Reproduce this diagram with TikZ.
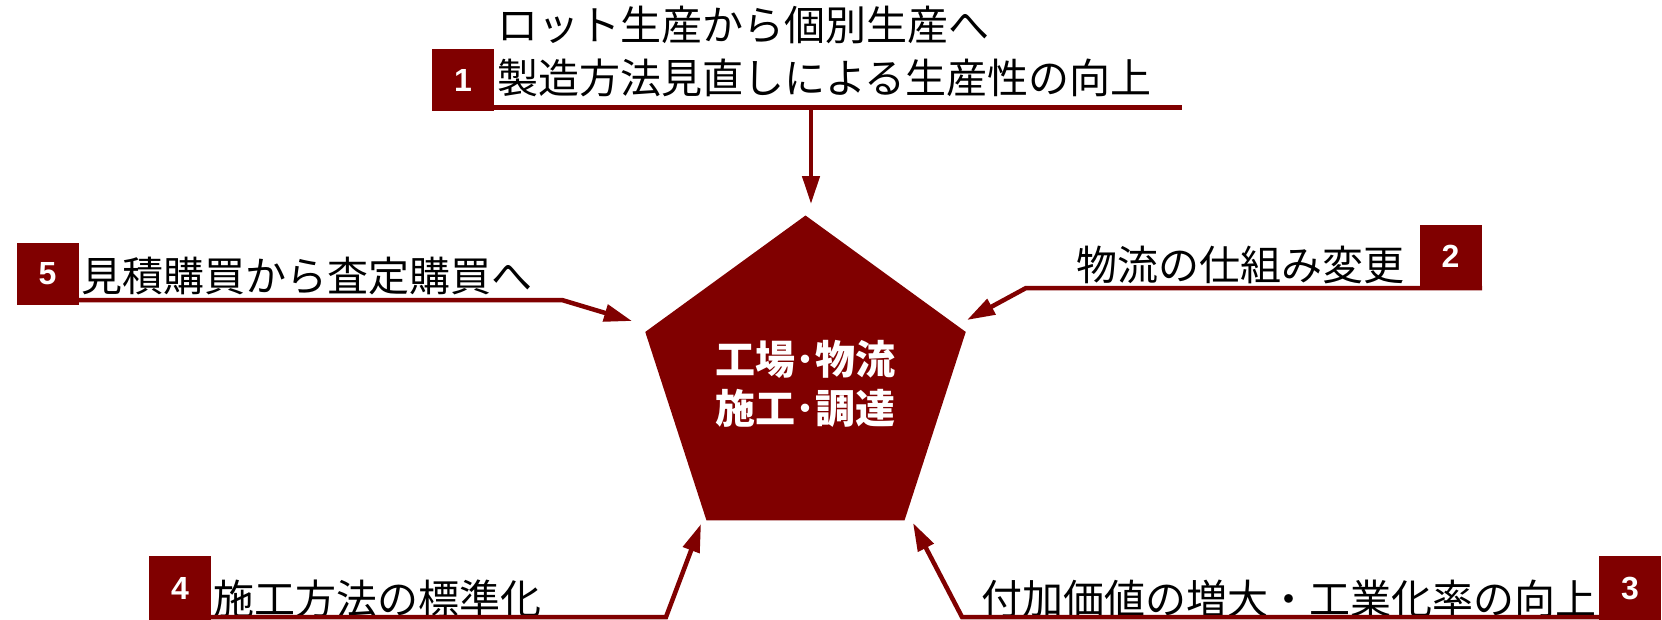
\documentclass[tikz,border=0pt]{standalone}
\usepackage{fontspec}
\setmainfont{Liberation Sans}
\newfontfamily\jp{Noto Sans CJK JP}
\usetikzlibrary{arrows.meta,shapes.geometric}
\definecolor{maroon}{RGB}{128,0,0}
\begin{document}
\begin{tikzpicture}[x=1pt,y=-1pt,
  numbox/.style={fill=maroon, minimum width=62pt, minimum height=62pt, inner sep=0pt, text=white, font=\bfseries\fontsize{32}{32}\selectfont},
  jtext/.style={inner sep=0pt, font=\jp\fontsize{41}{48}\selectfont},
  uline/.style={draw=maroon, line width=4.5pt},
  arr/.style={uline, -{Triangle[length=28pt,width=17pt]}},
]
\useasboundingbox (0,0) rectangle (1662,619);

% centre pentagon
\node[regular polygon, regular polygon sides=5, minimum size=337pt, inner sep=0pt,
      fill=maroon, text=white, align=center,
      font=\jp\bfseries\fontsize{40}{49}\selectfont] (p) at (805.5,384) {工場･物流\\施工･調達};

% item 1
\node[jtext, anchor=west] (t1a) at (497,25) {ロット生産から個別生産へ};
\node[jtext, anchor=west] (t1b) at (497,78) {製造方法見直しによる生産性の向上};
\node[numbox] (b1) at (463,80) {1};
\coordinate (u1a) at (433,107.5);
\coordinate (u1b) at (1182,107.5);
\coordinate (u1m) at (811,107.5);
\coordinate (a1) at (811,204);
\draw[uline] (u1a) -- (u1b);
\draw[arr] (u1m) -- (a1);

% item 5
\node[numbox] (b5) at (47.5,273.5) {5};
\node[jtext, anchor=west] (t5) at (81,276) {見積購買から査定購買へ};
\coordinate (u5a) at (47,300);
\coordinate (u5b) at (562,300);
\coordinate (a5) at (632,321);
\draw[arr] (u5a) -- (u5b) -- (a5);

% item 2
\node[numbox] (b2) at (1450.5,256) {2};
\node[jtext, anchor=east] (t2) at (1405,265) {物流の仕組み変更};
\coordinate (u2a) at (1482,288);
\coordinate (u2b) at (1026,288);
\coordinate (a2) at (967,320);
\draw[arr] (u2a) -- (u2b) -- (a2);

% item 4
\node[numbox, minimum height=64pt] (b4) at (180,588) {4};
\node[jtext, anchor=west] (t4) at (213,599) {施工方法の標準化};
\coordinate (u4a) at (180,617);
\coordinate (u4b) at (666,617);
\coordinate (a4) at (701,524);
\draw[arr] (u4a) -- (u4b) -- (a4);

% item 3
\node[numbox, minimum height=64pt] (b3) at (1630,588) {3};
\node[jtext, anchor=east] (t3) at (1597,599) {付加価値の増大・工業化率の向上};
\coordinate (u3a) at (1630,617);
\coordinate (u3b) at (962,617);
\coordinate (a3) at (913,523);
\draw[arr] (u3a) -- (u3b) -- (a3);
\end{tikzpicture}
\end{document}
